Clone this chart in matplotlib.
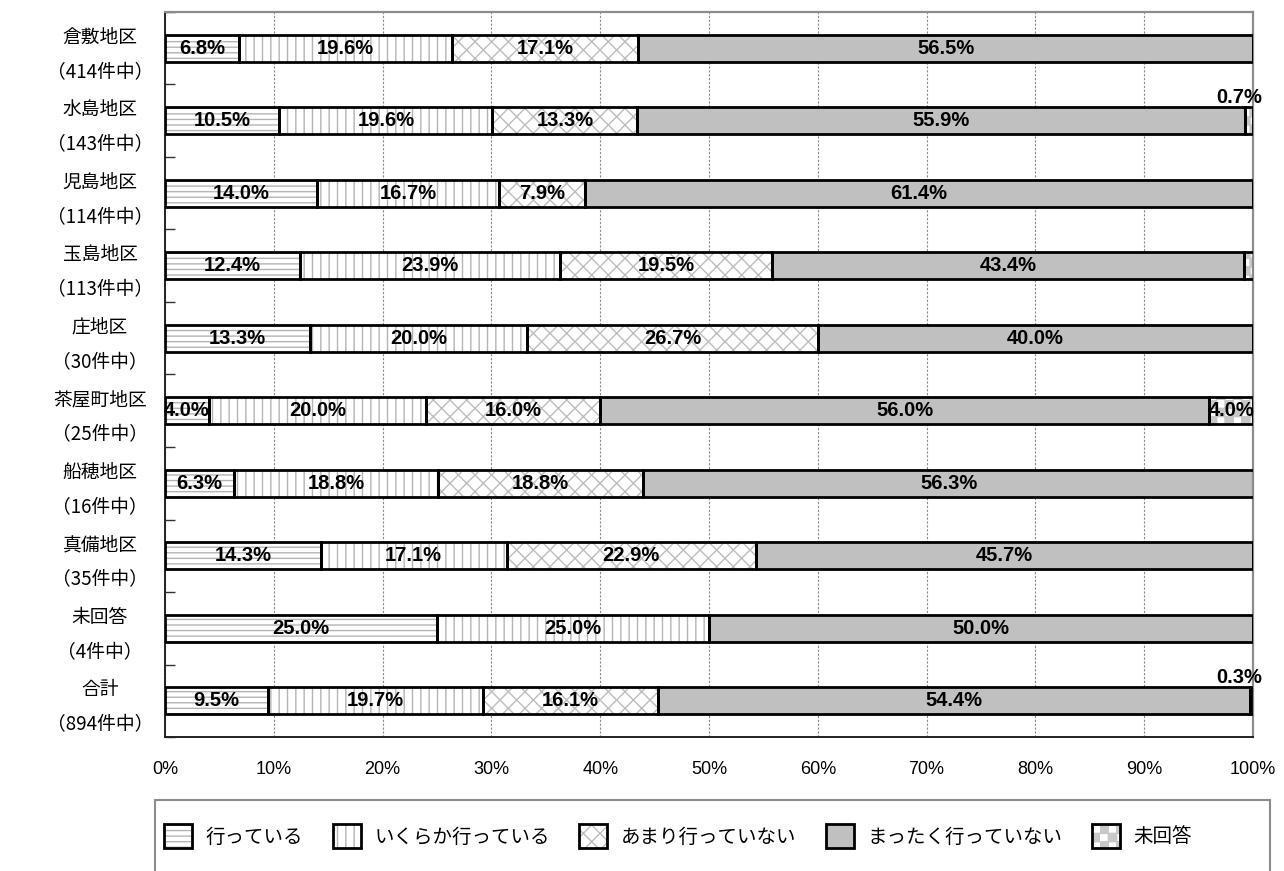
import warnings
import numpy as np
import matplotlib
matplotlib.use("Agg")
import matplotlib.pyplot as plt
from matplotlib import hatch as mhatch
from matplotlib.path import Path
from matplotlib.patches import Patch, Rectangle
from matplotlib.legend_handler import HandlerTuple
import matplotlib.transforms as mtransforms

warnings.filterwarnings("ignore")

# ---- data -------------------------------------------------------------
districts = ["倉敷地区", "水島地区", "児島地区", "玉島地区", "庄地区",
             "茶屋町地区", "船穂地区", "真備地区", "未回答", "合計"]
counts = [414, 143, 114, 113, 30, 25, 16, 35, 4, 894]

series_names = ["行っている", "いくらか行っている", "あまり行っていない",
                "まったく行っていない", "未回答"]
doing = [6.8, 10.5, 14.0, 12.4, 13.3, 4.0, 6.3, 14.3, 25.0, 9.5]
somewhat = [19.6, 19.6, 16.7, 23.9, 20.0, 20.0, 18.8, 17.1, 25.0, 19.7]
rarely = [17.1, 13.3, 7.9, 19.5, 26.7, 16.0, 18.8, 22.9, 0.0, 16.1]
never = [56.5, 55.9, 61.4, 43.4, 40.0, 56.0, 56.3, 45.7, 50.0, 54.4]
no_answer = [0.0, 0.7, 0.0, 0.9, 0.0, 4.0, 0.0, 0.0, 0.0, 0.3]
x_ticks = [0, 10, 20, 30, 40, 50, 60, 70, 80, 90, 100]


# ---- checkerboard hatch ("c") ----------------------------------------
class CheckerHatch(mhatch.HatchPatternBase):
    def __init__(self, hatch, density):
        self.n = hatch.count("c") * density
        self.num_vertices = 0
        self.cells = []
        if self.n:
            self.cells = [(i, j) for i in range(self.n) for j in range(self.n)
                          if (i + j) % 2 == 0]
            self.num_vertices = len(self.cells) * 5

    def set_vertices_and_codes(self, vertices, codes):
        s = 1.0 / self.n
        k = 0
        for i, j in self.cells:
            x0, y0 = i * s, j * s
            vertices[k:k + 5] = [(x0, y0), (x0 + s, y0), (x0 + s, y0 + s),
                                 (x0, y0 + s), (x0, y0)]
            codes[k] = Path.MOVETO
            codes[k + 1:k + 4] = Path.LINETO
            codes[k + 4] = Path.CLOSEPOLY
            k += 5


mhatch._hatch_types.append(CheckerHatch)

plt.rcParams["hatch.linewidth"] = 1.0
plt.rcParams["font.family"] = ["Noto Sans CJK JP", "DejaVu Sans"]

W, H = 1284, 871
fig = plt.figure(figsize=(W / 100, H / 100), dpi=100)
ax = fig.add_axes([165 / W, 1 - 737 / H, (1253 - 165) / W, (737 - 12) / H])

styles = [
    dict(face="white", hatch="---", hcol="#b4b4b4"),
    dict(face="white", hatch="||", hcol="#b4b4b4"),
    dict(face="white", hatch="xx", hcol="#bdbdbd"),
    dict(face="#c0c0c0", hatch=None, hcol="#c0c0c0"),
    dict(face="white", hatch="cc", hcol="#c8c8c8"),
]
series = [doing, somewhat, rarely, never, no_answer]

y = np.arange(len(districts))
bar_h = 0.37
left = np.zeros(len(districts))
num_font = dict(family=["Liberation Sans", "DejaVu Sans"], fontweight="bold",
                fontsize=14.5, color="black")

for vals, st in zip(series, styles):
    vals = np.array(vals)
    ax.barh(y, vals, left=left, height=bar_h, color=st["face"],
            hatch=st["hatch"], edgecolor=st["hcol"], linewidth=0, zorder=2)
    ax.barh(y, vals, left=left, height=bar_h, facecolor="none",
            edgecolor="black", linewidth=2, zorder=3)
    for yi, (l, v) in enumerate(zip(left, vals)):
        if v >= 1:
            ax.text(l + v / 2, yi, f"{v:.1f}%", ha="center", va="center",
                    zorder=4, **num_font)
        elif v > 0:
            ax.annotate(f"{v:.1f}%", xy=(l + v, yi - bar_h / 2),
                        xytext=(9, 0), textcoords="offset pixels",
                        ha="right", va="bottom", zorder=4, **num_font)
    left = left + vals

ax.set_xlim(0, 100)
ax.set_ylim(len(districts) - 0.5, -0.5)
ax.set_xticks(x_ticks)
ax.set_xticklabels([f"{t}%" for t in x_ticks],
                   family=["Liberation Sans", "DejaVu Sans"], fontsize=13)
ax.tick_params(axis="x", length=0, pad=17)
ax.grid(axis="x", color="#8a8a8a", linestyle=(0, (2, 1.5)), linewidth=0.8,
        zorder=0)
ax.set_yticks([])
ax.set_yticks(np.arange(-0.5, len(districts), 1.0), minor=True)
ax.tick_params(axis="y", which="minor", direction="in", length=7,
               width=1, color="#333333")

for side in ("top", "right"):
    ax.spines[side].set_color("#8c8c8c")
    ax.spines[side].set_linewidth(1.6)
for side in ("left", "bottom"):
    ax.spines[side].set_color("#222222")
    ax.spines[side].set_linewidth(1.4)

# category labels on the left
trans = mtransforms.blended_transform_factory(fig.transFigure, ax.transData)
for yi, (name, n) in enumerate(zip(districts, counts)):
    ax.text(100 / W, yi + 0.09, f"{name}\n（{n}件中）", transform=trans,
            ha="center", va="center", multialignment="center",
            fontsize=13.5, linespacing=1.9, clip_on=False)

# legend frame
fig.patches.append(Rectangle((155 / W, -0.05), (1270 - 155) / W,
                             0.05 + 1 - 800 / H, transform=fig.transFigure,
                             facecolor="none", edgecolor="#8c8c8c",
                             linewidth=1.5))

handles = []
for st in styles:
    fill = Patch(facecolor=st["face"], hatch=st["hatch"],
                 edgecolor=st["hcol"], linewidth=0)
    edge = Patch(facecolor="none", edgecolor="black", linewidth=2)
    handles.append((fill, edge))

fig.legend(handles, series_names, loc="center", ncol=5,
           bbox_to_anchor=(678 / W, 1 - 836 / H), frameon=False,
           handler_map={tuple: HandlerTuple(ndivide=1, pad=0)},
           fontsize=14, handlelength=1.45, handleheight=1.55,
           handletextpad=0.7, columnspacing=1.5)

fig.savefig("out.png", dpi=100)
